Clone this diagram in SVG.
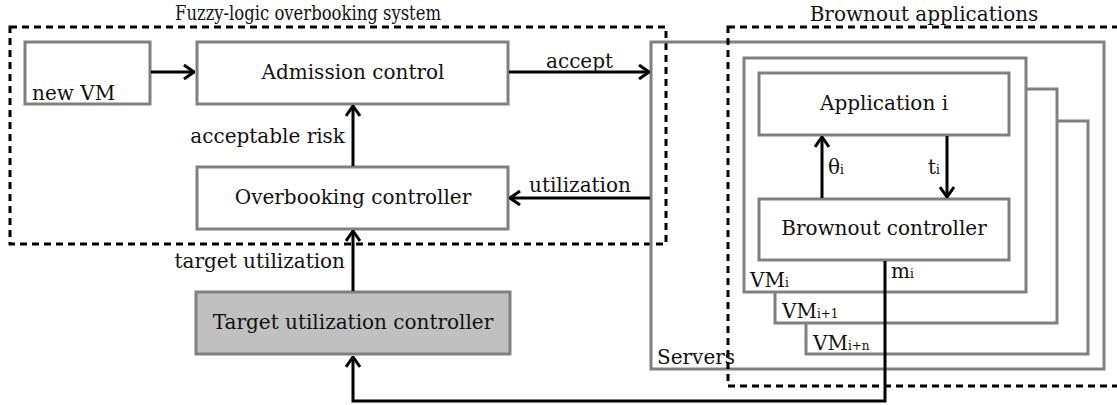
<svg xmlns="http://www.w3.org/2000/svg" width="1117" height="405" viewBox="0 0 1117 405">
<defs>
<marker id="ah" viewBox="0 0 12 16" refX="11" refY="8" markerWidth="12" markerHeight="16" markerUnits="userSpaceOnUse" orient="auto">
<path d="M1,1 L11,8 L1,15" fill="none" stroke="#000" stroke-width="3"/>
</marker>
</defs>
<style>
text{font-family:"DejaVu Serif",serif;font-size:20px;fill:#111}
.cond{font-family:"DejaVu Serif Condensed","DejaVu Serif",serif;font-stretch:condensed}
.box{fill:#fff;stroke:#808080;stroke-width:3}
.dash{fill:none;stroke:#000;stroke-width:3;stroke-dasharray:7,5}
.c{fill:none;stroke:#000;stroke-width:3}
.m{text-anchor:middle}
.sub{font-size:12px}
</style>
<rect width="1117" height="405" fill="#fff"/>
<g id="fuzzy-system">
<rect class="dash" x="10" y="27" width="656" height="217"/>
<text class="cond" x="175" y="20" textLength="266" lengthAdjust="spacingAndGlyphs">Fuzzy-logic overbooking system</text>
</g>
<g id="servers">
<rect class="box" x="651" y="42" width="453" height="327" style="fill:none"/>
<text x="657" y="364">Servers</text>
</g>
<g id="brownout-apps">
<rect class="dash" x="728" y="27" width="400" height="359"/>
<text class="m" x="924" y="21">Brownout applications</text>
</g>
<g id="vm-in">
<rect class="box" x="806" y="121" width="282" height="233"/>
<text x="813" y="350">VM<tspan class="sub">i+n</tspan></text>
</g>
<g id="vm-i1">
<rect class="box" x="775" y="89" width="282" height="234"/>
<text x="782" y="318">VM<tspan class="sub">i+1</tspan></text>
</g>
<g id="vm-i">
<rect class="box" x="744" y="58" width="282" height="234"/>
<text x="750" y="287">VM<tspan class="sub">i</tspan></text>
</g>
<g id="new-vm">
<rect class="box" x="25" y="42" width="125" height="62"/>
<text x="32" y="100">new VM</text>
</g>
<g id="admission">
<rect class="box" x="197" y="42" width="311" height="62"/>
<text class="m" x="353" y="79">Admission control</text>
</g>
<g id="overbooking">
<rect class="box" x="197" y="167" width="311" height="62"/>
<text class="m" x="353" y="204">Overbooking controller</text>
</g>
<g id="target">
<rect class="box" x="196" y="292" width="314" height="62" style="fill:#c0c0c0"/>
<text class="m" x="353" y="329">Target utilization controller</text>
</g>
<g id="application">
<rect class="box" x="759" y="73" width="250" height="62"/>
<text class="m" x="884" y="110">Application i</text>
</g>
<g id="brownout-ctrl">
<rect class="box" x="759" y="199" width="250" height="61"/>
<text class="m" x="884" y="235">Brownout controller</text>
</g>
<g id="connectors">
<line class="c" x1="151" y1="72" x2="194" y2="72" marker-end="url(#ah)"/>
<line class="c" x1="509" y1="72" x2="649" y2="72" marker-end="url(#ah)"/>
<line class="c" x1="353" y1="166" x2="353" y2="106" marker-end="url(#ah)"/>
<line class="c" x1="650" y1="198" x2="510" y2="198" marker-end="url(#ah)"/>
<line class="c" x1="353" y1="291" x2="353" y2="231" marker-end="url(#ah)"/>
<line class="c" x1="822" y1="198" x2="822" y2="137" marker-end="url(#ah)"/>
<line class="c" x1="947" y1="136" x2="947" y2="197" marker-end="url(#ah)"/>
<polyline class="c" points="885,261 885,401 353,401 353,357" marker-end="url(#ah)"/>
<text x="546" y="68">accept</text>
<text x="345" y="143" text-anchor="end">acceptable risk</text>
<text x="529" y="192">utilization</text>
<text x="345" y="268" text-anchor="end">target utilization</text>
<text x="828" y="174">θ<tspan class="sub">i</tspan></text>
<text x="928" y="174">t<tspan class="sub">i</tspan></text>
<text x="891" y="278">m<tspan class="sub">i</tspan></text>
</g>
</svg>
